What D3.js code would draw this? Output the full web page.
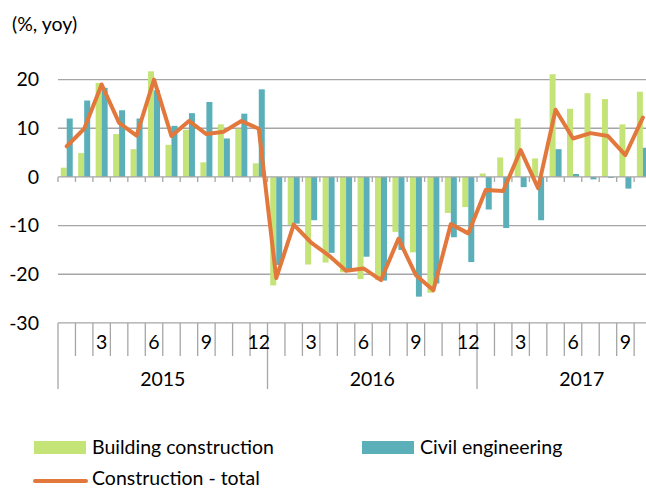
<!DOCTYPE html>
<html>
<head>
<meta charset="utf-8">
<script src="https://cdn.jsdelivr.net/npm/d3@7"></script>
<style>
  body { margin: 0; background: #fff; }
  svg { display: block; font-family: "Lato", "Open Sans", sans-serif; }
</style>
</head>
<body>
<div id="chart"></div>
<script>
// months Jan 2015 .. Oct 2017
let years = ["2015", "2016", "2017"];
let monthsPerYear = [12, 12, 10];
let tickLabels = ["3", "6", "9", "12"];

let building = [1.9, 4.9, 19.3, 8.8, 5.7, 21.7, 6.6, 9.7, 3.0, 10.8, 9.9, 2.8,
	-22.3, -9.9, -18.0, -17.6, -19.6, -21.0, -21.2, -11.3, -15.5, -23.8, -7.4, -6.2,
	0.7, 4.0, 12.0, 3.8, 21.1, 14.0, 17.2, 16.0, 10.8, 17.5];
let civil = [12.0, 15.7, 18.3, 13.7, 12.0, 17.8, 10.5, 13.1, 15.4, 7.9, 13.0, 18.0,
	-18.1, -9.6, -8.9, -15.6, -19.0, -16.4, -21.3, -15.0, -24.6, -21.9, -12.4, -17.5,
	-6.7, -10.5, -2.1, -8.9, 5.7, 0.6, -0.5, -0.2, -2.4, 6.0];
let total = [6.3, 9.9, 19.0, 11.1, 8.5, 20.0, 8.4, 11.5, 8.8, 9.3, 11.5, 9.9,
	-20.8, -9.8, -13.5, -16.1, -19.3, -18.8, -21.2, -12.7, -20.2, -23.3, -9.7, -11.6,
	-2.7, -2.9, 5.5, -2.3, 13.8, 7.9, 9.0, 8.4, 4.5, 12.2];

let svgWidth = 646;
let svgHeight = 488;

let left = 58;
let right = 651.6;
let yTop = 79.6;     // value 20
let yBottom = 322.9; // value -30
let fontSize = "19.5px";

let svg = d3.select("#chart")
	.append("svg")
	.attr("width", svgWidth)
	.attr("height", svgHeight);

// one band per month
let keys = [];
let monthNum = [];
years.forEach(function(yr, yi) {
	for (let m = 1; m <= monthsPerYear[yi]; m++) {
		keys.push(yr + "-" + m);
		monthNum.push(m);
	}
});

let x = d3.scaleBand()
	.domain(keys)
	.range([left, right]);

let y = d3.scaleLinear()
	.domain([-30, 20])
	.range([yBottom, yTop]);

let gridColor = "#a6a6a6";

// gridlines
svg.append("g")
	.selectAll("line")
	.data([20, 10, -10, -20])
	.enter()
	.append("line")
	.attr("x1", left)
	.attr("x2", svgWidth)
	.attr("y1", d => y(d))
	.attr("y2", d => y(d))
	.attr("stroke", gridColor)
	.attr("stroke-width", 1.3);

// y labels
let leftAxis = d3.axisLeft(y)
	.tickValues([20, 10, 0, -10, -20, -30])
	.tickFormat(d => String(d))
	.tickSize(0)
	.tickPadding(0);
let yAxisG = svg.append("g")
	.attr("transform", "translate(39, 0)")
	.call(leftAxis);
yAxisG.select(".domain").remove();
yAxisG.selectAll("text")
	.attr("font-family", "Lato, sans-serif")
	.attr("font-size", fontSize)
	.attr("fill", "#000");

svg.append("text")
	.attr("x", 12)
	.attr("y", 31)
	.attr("font-size", fontSize)
	.text("(%, yoy)");

// bars
let halfBar = 6;
let green = "#c5e478";
let teal = "#5aafb8";

svg.append("g")
	.selectAll("rect")
	.data(building)
	.enter()
	.append("rect")
	.attr("x", (d, i) => x(keys[i]) + x.bandwidth() / 2 - halfBar)
	.attr("width", halfBar)
	.attr("y", d => y(Math.max(0, d)))
	.attr("height", d => Math.abs(y(d) - y(0)))
	.attr("fill", green);

svg.append("g")
	.selectAll("rect")
	.data(civil)
	.enter()
	.append("rect")
	.attr("x", (d, i) => x(keys[i]) + x.bandwidth() / 2)
	.attr("width", halfBar)
	.attr("y", d => y(Math.max(0, d)))
	.attr("height", d => Math.abs(y(d) - y(0)))
	.attr("fill", teal);

// zero axis with small ticks
svg.append("line")
	.attr("x1", left)
	.attr("x2", svgWidth)
	.attr("y1", y(0))
	.attr("y2", y(0))
	.attr("stroke", gridColor)
	.attr("stroke-width", 1.3);

svg.append("g")
	.selectAll("line")
	.data(keys)
	.enter()
	.append("line")
	.attr("x1", d => x(d))
	.attr("x2", d => x(d))
	.attr("y1", y(0))
	.attr("y2", y(0) + 5)
	.attr("stroke", gridColor)
	.attr("stroke-width", 1.3);

// total line
let line = d3.line()
	.x((d, i) => x(keys[i]) + x.bandwidth() / 2)
	.y(d => y(d));

svg.append("path")
	.datum(total)
	.attr("d", line)
	.attr("fill", "none")
	.attr("stroke", "#e2783b")
	.attr("stroke-width", 4)
	.attr("stroke-linejoin", "round")
	.attr("stroke-linecap", "round");

// category axis at bottom
let catG = svg.append("g").attr("font-size", fontSize);
catG.append("line")
	.attr("x1", left)
	.attr("x2", svgWidth)
	.attr("y1", yBottom)
	.attr("y2", yBottom)
	.attr("stroke", gridColor)
	.attr("stroke-width", 1.3);

catG.selectAll(".mtick")
	.data(keys)
	.enter()
	.append("line")
	.attr("x1", d => x(d))
	.attr("x2", d => x(d))
	.attr("y1", yBottom)
	.attr("y2", (d, i) => monthNum[i] === 1 ? 389 : 356)
	.attr("stroke", gridColor)
	.attr("stroke-width", 1.3);

catG.selectAll(".mlabel")
	.data(keys)
	.enter()
	.filter((d, i) => tickLabels.indexOf(String(monthNum[i])) >= 0)
	.append("text")
	.attr("x", d => x(d) + x.bandwidth() / 2)
	.attr("y", 349)
	.attr("text-anchor", "middle")
	.text(d => d.split("-")[1]);

let yearStart = 0;
years.forEach(function(yr, yi) {
	let first = keys[yearStart];
	let fullEnd = x(first) + 12 * x.step();
	catG.append("text")
		.attr("x", (x(first) + fullEnd) / 2)
		.attr("y", 386)
		.attr("text-anchor", "middle")
		.text(yr);
	yearStart += monthsPerYear[yi];
});

// legend
let legend = svg.append("g").attr("font-size", fontSize);
legend.append("rect").attr("x", 34).attr("y", 441).attr("width", 52).attr("height", 13).attr("fill", green);
legend.append("text").attr("x", 92).attr("y", 454).text("Building construction");
legend.append("rect").attr("x", 362).attr("y", 441).attr("width", 52).attr("height", 13).attr("fill", teal);
legend.append("text").attr("x", 420).attr("y", 454).text("Civil engineering");
legend.append("line").attr("x1", 35).attr("x2", 86).attr("y1", 481).attr("y2", 481)
	.attr("stroke", "#e2783b").attr("stroke-width", 4).attr("stroke-linecap", "round");
legend.append("text").attr("x", 92).attr("y", 485).text("Construction - total");
</script>
</body>
</html>
